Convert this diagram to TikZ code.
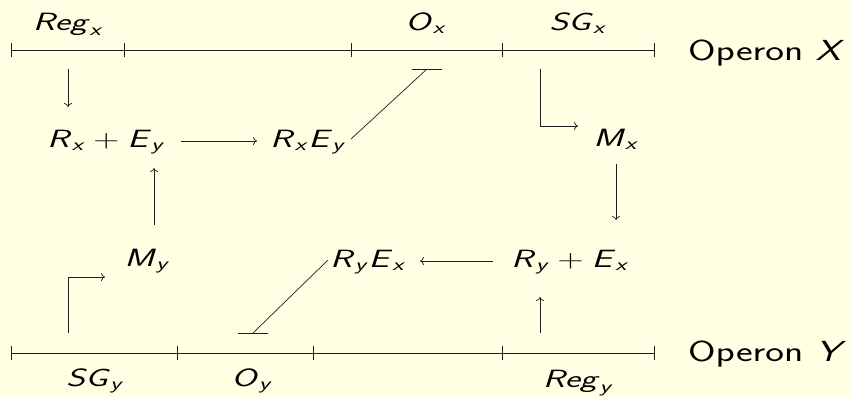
\documentclass[tikz,border=0pt]{standalone}
\usepackage{graphicx}
\usepackage{amsmath}
\usetikzlibrary{arrows.meta}
\definecolor{bgc}{RGB}{255,255,228}
\definecolor{ink}{RGB}{30,30,30}
\newcommand\si[1]{\textsf{\textit{#1}}}
\newcommand\stt[1]{\scalebox{1.45}[1]{#1}}
\newcommand\sto[1]{\scalebox{1.37}[1]{#1}}
\newcommand\mv[1]{\stt{$#1$}}
\begin{document}
\begin{tikzpicture}[x=1pt,y=-1pt,
  lbl/.style={inner sep=0pt,anchor=base,font=\fontsize{25}{30}\selectfont},
  oplbl/.style={inner sep=0pt,anchor=base west,font=\fontsize{29}{32}\selectfont\sffamily},
  wire/.style={draw=ink,line width=0.7pt},
  arr/.style={wire,-{To[length=4pt,width=8pt]}},
  tick/.style={wire}]
\fill[bgc] (0,0) rectangle (850,397);
\useasboundingbox (0,0) rectangle (850,397);
% operon X line
\coordinate (xa) at (11,50); \coordinate (xb) at (124,50); \coordinate (xc) at (351,50);
\coordinate (xd) at (502,50); \coordinate (xe) at (654,50);
\draw[wire] (xa) -- (xe);
\foreach \p in {xa,xb,xc,xd,xe} \draw[tick] ([yshift=-7pt]\p) -- ([yshift=7pt]\p);
% operon Y line
\coordinate (ya) at (11,353); \coordinate (yb) at (177,353); \coordinate (yc) at (313,353);
\coordinate (yd) at (502,353); \coordinate (ye) at (654,353);
\draw[wire] (ya) -- (ye);
\foreach \p in {ya,yb,yc,yd,ye} \draw[tick] ([yshift=-7pt]\p) -- ([yshift=7pt]\p);
% labels
\node[lbl] (regx) at (68,30) {\mv{\si{Reg}_{\si{x}}}};
\node[lbl] (ox) at (426,30) {\mv{\si{O}_{\si{x}}}};
\node[lbl] (sgx) at (578,30) {\mv{\si{SG}_{\si{x}}}};
\node[oplbl] (opx) at (688,60) {\sto{Operon \textit{X}}};
\node[lbl] (sgy) at (95,386) {\mv{\si{SG}_{\si{y}}}};
\node[lbl] (oy) at (252,386) {\mv{\si{O}_{\si{y}}}};
\node[lbl] (regy) at (578,387) {\mv{\si{Reg}_{\si{y}}}};
\node[oplbl] (opy) at (688,361) {\sto{Operon \textit{Y}}};
% species
\node[lbl] (rxpey) at (106,147) {\mv{\si{R}_{\si{x}} + \si{E}_{\si{y}}}};
\node[lbl] (rxey) at (308,147) {\mv{\si{R}_{\si{x}}\si{E}_{\si{y}}}};
\node[lbl] (mx) at (616,146) {\mv{\si{M}_{\si{x}}}};
\node[lbl] (my) at (147,266) {\mv{\si{M}_{\si{y}}}};
\node[lbl] (ryex) at (368,267) {\mv{\si{R}_{\si{y}}\si{E}_{\si{x}}}};
\node[lbl] (rypex) at (570,267) {\mv{\si{R}_{\si{y}} + \si{E}_{\si{x}}}};
% arrow end points
\coordinate (a1s) at (68,69);  \coordinate (a1e) at (68,107);
\coordinate (a2s) at (181,141); \coordinate (a2e) at (257,141);
\coordinate (a3s) at (154,225); \coordinate (a3e) at (154,168);
\coordinate (a4s) at (540,69); \coordinate (a4m) at (540,126); \coordinate (a4e) at (578,126);
\coordinate (a5s) at (616,164); \coordinate (a5e) at (616,220);
\coordinate (a6s) at (540,333); \coordinate (a6e) at (540,297);
\coordinate (a7s) at (493,261); \coordinate (a7e) at (420,261);
\coordinate (a8s) at (68,333); \coordinate (a8m) at (68,277); \coordinate (a8e) at (105,277);
\coordinate (i1s) at (351,139); \coordinate (i1e) at (427,69);
\coordinate (i2s) at (328,260); \coordinate (i2e) at (253,333);
\draw[arr] (a1s) -- (a1e);
\draw[arr] (a2s) -- (a2e);
\draw[arr] (a3s) -- (a3e);
\draw[arr] (a4s) -- (a4m) -- (a4e);
\draw[arr] (a5s) -- (a5e);
\draw[arr] (a6s) -- (a6e);
\draw[arr] (a7s) -- (a7e);
\draw[arr] (a8s) -- (a8m) -- (a8e);
% inhibitions
\draw[wire] (i1s) -- (i1e);
\draw[wire] ([xshift=-15pt]i1e) -- ([xshift=15pt]i1e);
\draw[wire] (i2s) -- (i2e);
\draw[wire] ([xshift=-15pt]i2e) -- ([xshift=15pt]i2e);
\end{tikzpicture}
\end{document}
